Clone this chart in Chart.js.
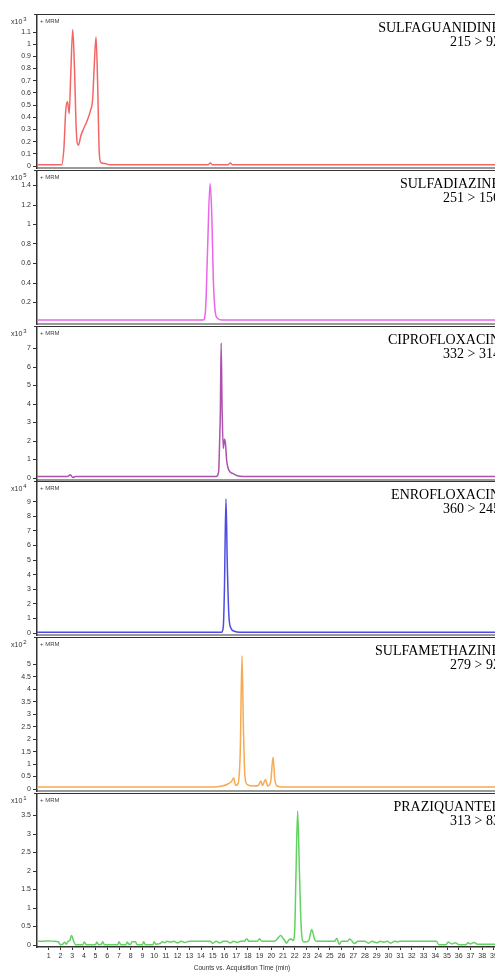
<!DOCTYPE html>
<html><head><meta charset="utf-8">
<script src="https://cdn.jsdelivr.net/npm/chart.js@4.4.1/dist/chart.umd.min.js"></script>
<style>
html,body{margin:0;padding:0;background:#fff;overflow:hidden;width:495px;height:973px}
#wrap{position:relative;width:495px;height:973px;overflow:hidden;background:#fff}
canvas{position:absolute;left:0}
</style></head><body><div id="wrap"></div>
<script>
// ---- data ----
const compounds = ["SULFAGUANIDINE","SULFADIAZINE","CIPROFLOXACIN","ENROFLOXACIN","SULFAMETHAZINE","PRAZIQUANTEL"];
const transitions = ["215 > 92","251 > 156","332 > 314","360 > 245","279 > 92","313 > 83"];
const exponents = ["3","5","3","4","2","1"];

const sulfaguanidine = [[0,0.01],[2.1,0.01],[2.3,0.15],[2.45,0.45],[2.6,0.53],[2.75,0.43],[2.88,0.75],[3.05,1.12],[3.2,0.8],[3.35,0.3],[3.53,0.17],[3.75,0.25],[3.95,0.3],[4.27,0.37],[4.55,0.45],[4.75,0.55],[4.9,0.85],[5.04,1.06],[5.17,0.7],[5.32,0.1],[5.45,0.03],[5.8,0.02],[6.2,0.01],[14.6,0.01],[14.8,0.025],[15.0,0.01],[16.3,0.01],[16.5,0.025],[16.7,0.01],[42,0.01]];
const sulfadiazine = [[0,0.02],[14.2,0.02],[14.4,0.15],[14.55,0.7],[14.77,1.42],[14.92,1.1],[15.05,0.45],[15.2,0.12],[15.4,0.04],[15.8,0.02],[42,0.02]];
const ciprofloxacin = [[0,0.08],[2.6,0.08],[2.85,0.17],[3.05,0.03],[3.3,0.08],[15.3,0.08],[15.5,0.3],[15.6,2.2],[15.65,3.5],[15.72,7.3],[15.8,3.8],[15.9,1.6],[16.0,2.1],[16.08,1.9],[16.2,0.9],[16.4,0.4],[16.7,0.25],[17.1,0.12],[17.6,0.08],[42,0.08]];
const enrofloxacin = [[0,0.05],[15.75,0.05],[15.9,0.4],[16.0,3.0],[16.13,9.2],[16.25,4.5],[16.38,1.2],[16.55,0.35],[16.85,0.12],[17.3,0.05],[42,0.05]];
const sulfamethazine = [[0,0.08],[15.0,0.08],[15.8,0.12],[16.3,0.2],[16.6,0.3],[16.8,0.44],[16.95,0.15],[17.15,0.2],[17.35,1.5],[17.5,5.35],[17.62,2.5],[17.75,0.5],[17.95,0.18],[18.5,0.12],[18.9,0.14],[19.1,0.32],[19.25,0.14],[19.5,0.38],[19.7,0.12],[19.95,0.3],[20.15,1.28],[20.3,0.4],[20.5,0.12],[21.0,0.08],[42,0.08]];
const praziquantel = [[0,0.1],[0.5,0.1],[1.0,0.11],[1.5,0.1],[1.8,0.09],[2.0,0.01],[2.2,0.02],[2.35,0.08],[2.5,0.02],[2.65,0.1],[2.8,0.12],[2.95,0.26],[3.15,0.08],[3.3,0.01],[3.9,0.01],[4.05,0.08],[4.2,0.01],[5.0,0.01],[5.1,0.08],[5.25,0.01],[5.5,0.02],[5.6,0.09],[5.75,0.01],[6.9,0.01],[7.0,0.09],[7.15,0.01],[7.6,0.01],[7.7,0.08],[7.85,0.02],[8.0,0.02],[8.1,0.09],[8.4,0.09],[8.55,0.01],[9.0,0.01],[9.1,0.09],[9.25,0.01],[9.9,0.01],[10.0,0.09],[10.15,0.02],[10.5,0.04],[10.7,0.09],[10.9,0.06],[11.1,0.1],[11.4,0.08],[11.7,0.1],[12.0,0.06],[12.3,0.1],[12.6,0.07],[13.0,0.1],[13.5,0.1],[14.8,0.1],[15.0,0.05],[15.3,0.1],[15.6,0.06],[15.9,0.1],[16.2,0.1],[16.5,0.06],[16.8,0.1],[17.1,0.07],[17.4,0.1],[17.7,0.1],[17.9,0.17],[18.1,0.1],[18.8,0.1],[19.0,0.16],[19.2,0.1],[20.0,0.1],[20.3,0.1],[20.6,0.2],[20.8,0.26],[21.0,0.18],[21.15,0.12],[21.3,0.05],[21.5,0.14],[21.7,0.16],[21.85,0.12],[22.0,0.4],[22.1,1.8],[22.25,3.62],[22.4,2.0],[22.55,0.5],[22.7,0.1],[22.9,0.08],[23.2,0.12],[23.45,0.42],[23.7,0.15],[23.9,0.1],[25.4,0.1],[25.6,0.18],[25.8,0.02],[26.0,0.1],[26.5,0.1],[26.7,0.16],[26.9,0.1],[27.1,0.04],[27.4,0.1],[28.0,0.1],[28.3,0.05],[28.6,0.1],[29.0,0.06],[29.3,0.1],[29.6,0.08],[29.9,0.1],[30.2,0.05],[30.5,0.1],[30.8,0.09],[31.0,0.1],[34.1,0.1],[34.3,0.01],[34.9,0.01],[35.1,0.08],[35.4,0.03],[35.7,0.06],[36.0,0.01],[36.6,0.01],[36.8,0.06],[37.0,0.03],[37.3,0.07],[37.6,0.02],[38.0,0.02],[42,0.02]];

const yTicks1 = [0,0.1,0.2,0.3,0.4,0.5,0.6,0.7,0.8,0.9,1,1.1];
const yTicks2 = [0.2,0.4,0.6,0.8,1,1.2,1.4];
const yTicks3 = [0,1,2,3,4,5,6,7];
const yTicks4 = [0,1,2,3,4,5,6,7,8,9];
const yTicks5 = [0,0.5,1,1.5,2,2.5,3,3.5,4,4.5,5];
const yTicks6 = [0,0.5,1,1.5,2,2.5,3,3.5];
const xTickLabels = [1,2,3,4,5,6,7,8,9,10,11,12,13,14,15,16,17,18,19,20,21,22,23,24,25,26,27,28,29,30,31,32,33,34,35,36,37,38,39,40,41];
const xTitle = "Counts vs. Acquisition Time (min)";

// ---- layout / style ----
const series = [sulfaguanidine, sulfadiazine, ciprofloxacin, enrofloxacin, sulfamethazine, praziquantel];
const yTickSets = [yTicks1, yTicks2, yTicks3, yTicks4, yTicks5, yTicks6];
const colors = ['#f46666','#ea66ea','#ad52ad','#4c4ce2','#f6aa52','#62d262'];
const pxPerUnit = [121.8, 97.5, 18.5, 14.6, 24.9, 37];
const panelTops = [14, 169.8, 325.6, 481.4, 637.2, 793];
const AREA_H = 154, ZERO_OFF = 152, W = 529;

const decor = {
  id: 'decor',
  afterDraw(chart, args, o) {
    const ctx = chart.ctx, a = chart.chartArea;
    ctx.save();
    ctx.strokeStyle = '#333'; ctx.lineWidth = 1;
    ctx.beginPath(); ctx.moveTo(a.left - 3, a.top + 0.5); ctx.lineTo(a.right, a.top + 0.5); ctx.stroke();
    ctx.fillStyle = '#333'; ctx.textAlign = 'left'; ctx.textBaseline = 'alphabetic';
    ctx.font = '7px "Liberation Sans"';
    ctx.fillText('x10', 11, a.top + 10);
    const w = ctx.measureText('x10').width;
    ctx.font = '6px "Liberation Sans"';
    ctx.fillText(o.exp, 11 + w + 1, a.top + 7);
    ctx.fillStyle = '#444';
    ctx.font = '6px "Liberation Sans"';
    ctx.fillText('+ MRM', a.left + 3, a.top + 9);
    ctx.fillStyle = '#000'; ctx.textAlign = 'right';
    ctx.font = '14px "Liberation Serif"';
    ctx.fillText(o.name, 500, a.top + 18);
    ctx.fillText(o.trans, 500, a.top + 32);
    if (o.xTitle) {
      ctx.textAlign = 'center'; ctx.fillStyle = '#333';
      ctx.font = '6.5px "Liberation Sans"';
      ctx.fillText(o.xTitle, 242, a.bottom + 23);
    }
    ctx.restore();
  }
};

const wrap = document.getElementById('wrap');
series.forEach((data, i) => {
  const last = i === series.length - 1;
  const xH = last ? 26 : 2;
  const cv = document.createElement('canvas');
  cv.width = W; cv.height = AREA_H + xH;
  cv.style.top = panelTops[i] + 'px';
  cv.style.width = W + 'px'; cv.style.height = (AREA_H + xH) + 'px';
  wrap.appendChild(cv);
  const ppu = pxPerUnit[i];
  const yt = yTickSets[i];
  new Chart(cv, {
    type: 'line',
    data: { datasets: [{
      data: data.map(p => ({x: p[0], y: p[1]})),
      borderColor: colors[i], borderWidth: 1.5, pointRadius: 0,
      cubicInterpolationMode: 'monotone', fill: false
    }]},
    options: {
      responsive: false, animation: false, devicePixelRatio: 1,
      layout: { autoPadding: false, padding: 0 },
      plugins: { legend: {display: false}, tooltip: {enabled: false},
        decor: { name: compounds[i], trans: transitions[i], exp: exponents[i], xTitle: last ? xTitle : null } },
      scales: {
        x: {
          type: 'linear', min: 0, max: 42,
          afterBuildTicks: s => { s.ticks = xTickLabels.map(v => ({value: v})); },
          afterFit: s => { s.height = xH; s.paddingLeft = 0; s.paddingRight = 0; },
          grid: { display: true, drawOnChartArea: false, drawTicks: last, tickLength: 3, color: '#333', lineWidth: 1 },
          border: { display: true, color: last ? '#333' : '#9a9a9a', width: last ? 1.5 : 2 },
          ticks: { display: last, autoSkip: false, maxRotation: 0, padding: 2, color: '#333',
            font: { family: 'Liberation Sans', size: 7 }, callback: v => String(v) }
        },
        y: {
          type: 'linear', min: -2 / ppu, max: ZERO_OFF / ppu,
          afterBuildTicks: s => { s.ticks = yt.map(v => ({value: v})); },
          afterFit: s => { s.width = 37; s.paddingTop = 0; s.paddingBottom = 0; },
          grid: { display: true, drawOnChartArea: false, drawTicks: true, tickLength: 4, color: '#333', lineWidth: 1 },
          border: { display: true, color: '#333', width: 1.5 },
          ticks: { autoSkip: false, padding: 2, color: '#333',
            font: { family: 'Liberation Sans', size: 7 }, callback: v => String(v) }
        }
      }
    },
    plugins: [decor]
  });
});
</script></body></html>
